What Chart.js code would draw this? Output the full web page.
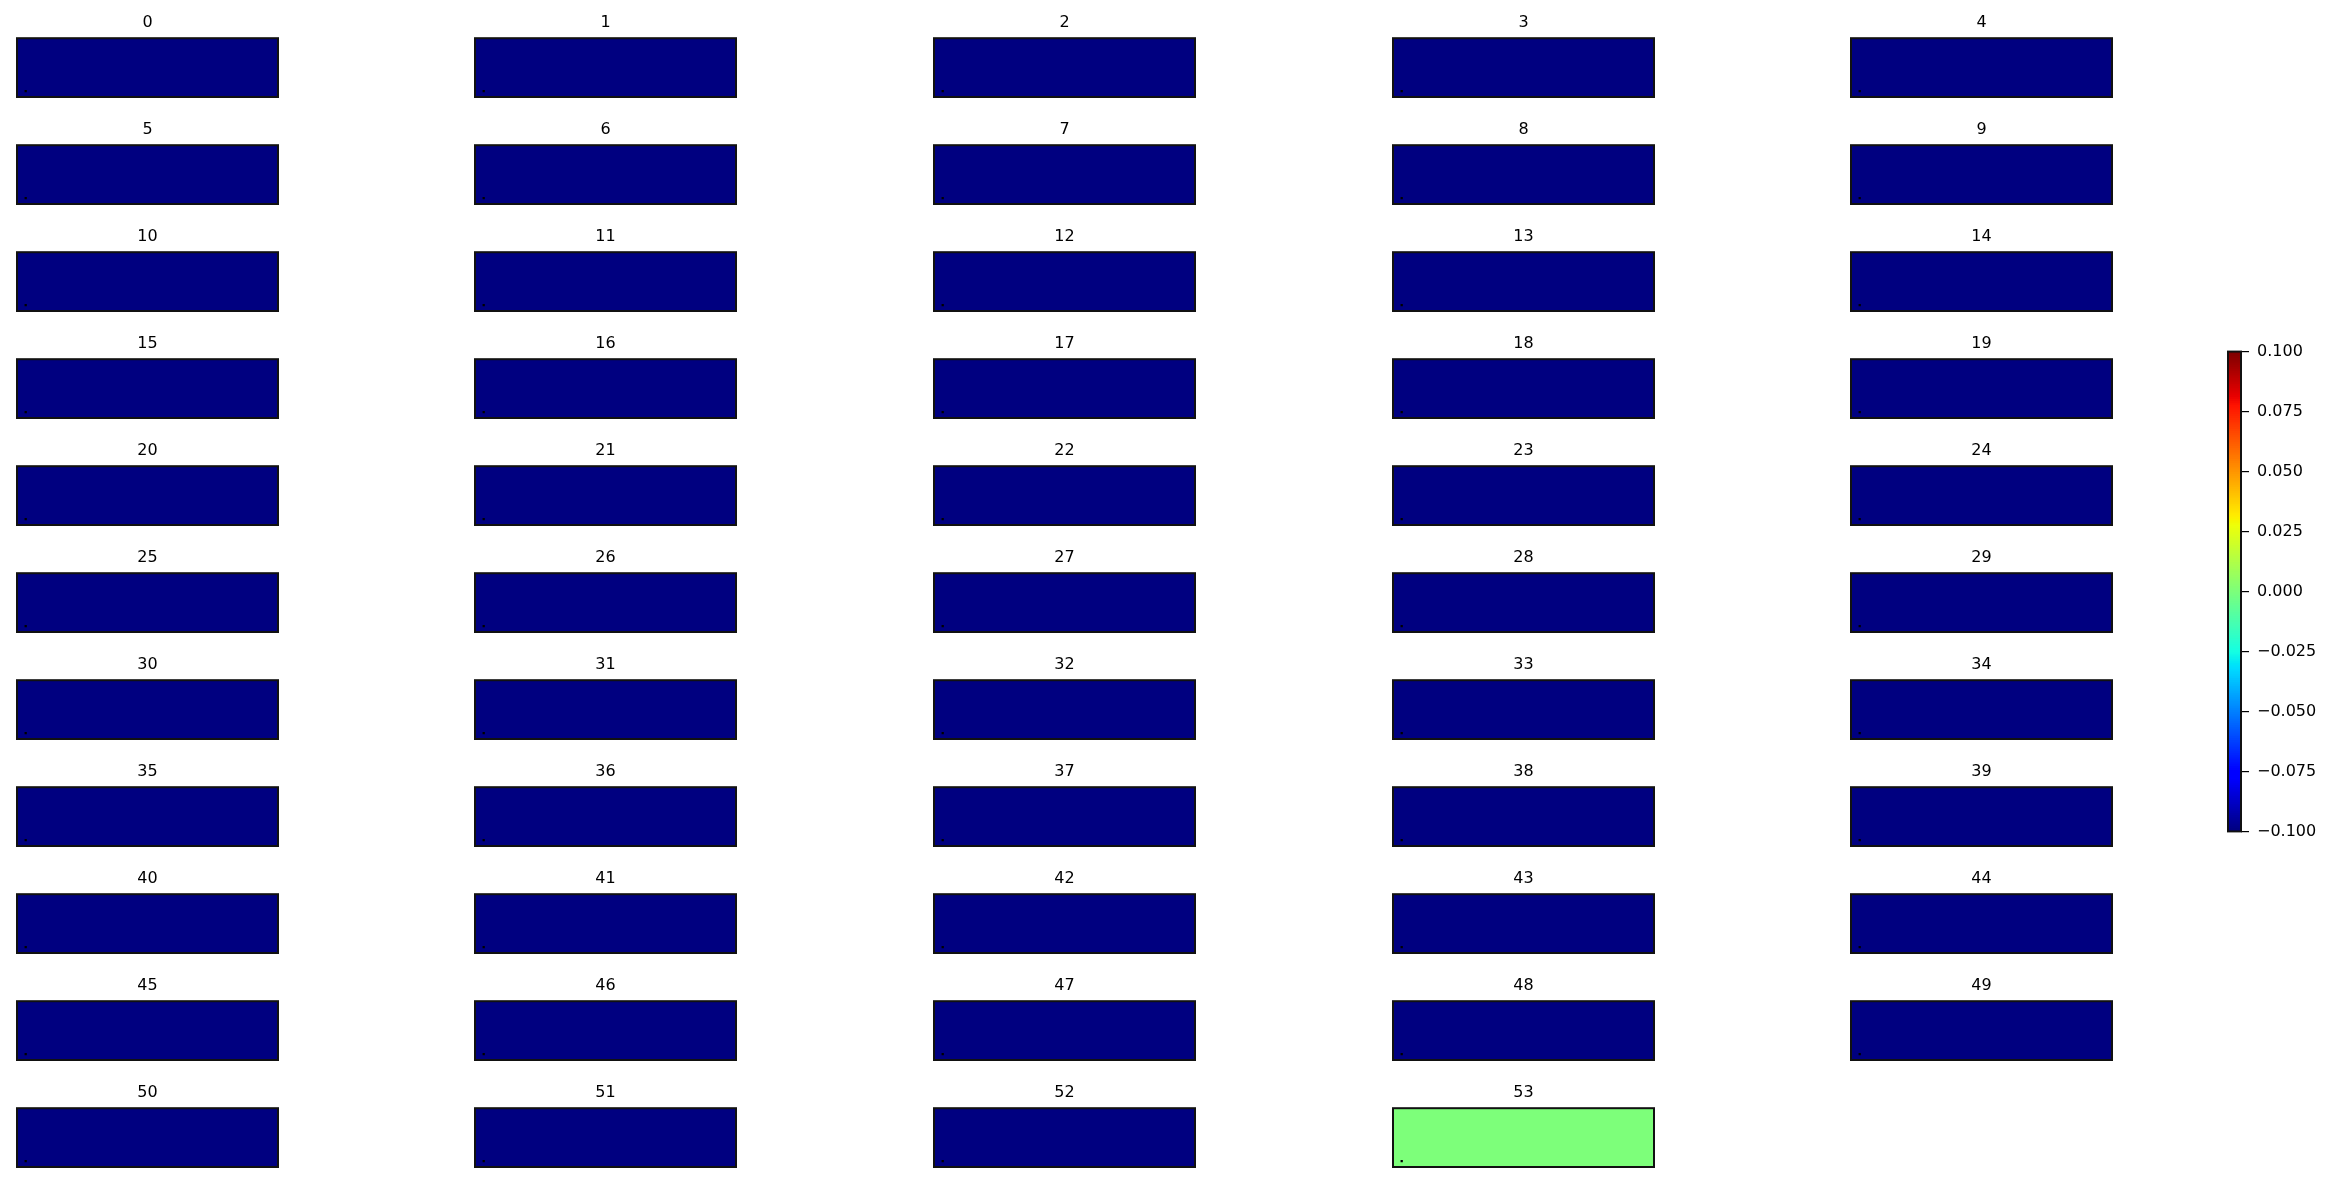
<!DOCTYPE html>
<html>
<head>
<meta charset="utf-8">
<script src="https://cdn.jsdelivr.net/npm/chart.js@4/dist/chart.umd.min.js"></script>
<style>
  body { margin: 0; background: #fff; }
  #fig { position: relative; width: 2332px; height: 1184px; overflow: hidden; }
  #fig canvas { position: absolute; }
</style>
</head>
<body>
<div id="fig"></div>
<script>
// panel titles and the single cell value shown in each panel
const panelTitles = ['0','1','2','3','4','5','6','7','8','9','10','11','12','13','14','15','16','17',
  '18','19','20','21','22','23','24','25','26','27','28','29','30','31','32','33','34','35',
  '36','37','38','39','40','41','42','43','44','45','46','47','48','49','50','51','52','53'];
const cellValues = [-0.1,-0.1,-0.1,-0.1,-0.1,-0.1,-0.1,-0.1,-0.1,-0.1,-0.1,-0.1,-0.1,-0.1,-0.1,-0.1,-0.1,-0.1,
  -0.1,-0.1,-0.1,-0.1,-0.1,-0.1,-0.1,-0.1,-0.1,-0.1,-0.1,-0.1,-0.1,-0.1,-0.1,-0.1,-0.1,-0.1,
  -0.1,-0.1,-0.1,-0.1,-0.1,-0.1,-0.1,-0.1,-0.1,-0.1,-0.1,-0.1,-0.1,-0.1,-0.1,-0.1,-0.1,0.0];
// marker point drawn in every panel
const markerX = [1];
const markerY = [1];
// colour scale
const cbarMin = -0.1, cbarMax = 0.1;
const cbarTicks = [-0.1, -0.075, -0.05, -0.025, 0, 0.025, 0.05, 0.075, 0.1];

const FONT = 'DejaVu Sans';

// matplotlib "jet"
const jetR = [[0,0],[0.35,0],[0.66,1],[0.89,1],[1,0.5]];
const jetG = [[0,0],[0.125,0],[0.375,1],[0.64,1],[0.91,0],[1,0]];
const jetB = [[0,0.5],[0.11,1],[0.34,1],[0.65,0],[1,0]];
function seg(t, pts) {
  for (let i = 0; i < pts.length - 1; i++) {
    if (t <= pts[i + 1][0]) {
      const a = pts[i], b = pts[i + 1];
      return a[1] + (b[1] - a[1]) * (t - a[0]) / (b[0] - a[0]);
    }
  }
  return pts[pts.length - 1][1];
}
function jet(t) {
  t = Math.min(1, Math.max(0, t));
  const idx = Math.min(255, Math.floor(t * 256));
  const x = idx / 255;
  return 'rgb(' + Math.round(seg(x, jetR) * 255) + ',' + Math.round(seg(x, jetG) * 255) + ',' + Math.round(seg(x, jetB) * 255) + ')';
}
function norm(v) { return (v - cbarMin) / (cbarMax - cbarMin); }

const fig = document.getElementById('fig');
function addCanvas(left, top, w, h) {
  const c = document.createElement('canvas');
  c.width = w; c.height = h;
  c.style.left = left + 'px'; c.style.top = top + 'px';
  c.style.width = w + 'px'; c.style.height = h + 'px';
  fig.appendChild(c);
  return c;
}

function frame(chart) {
  const a = chart.chartArea, ctx = chart.ctx;
  ctx.save();
  ctx.strokeStyle = '#111';
  ctx.lineWidth = 2;
  ctx.strokeRect(a.left, a.top, a.right - a.left, a.bottom - a.top);
  ctx.restore();
}

// fills the panel with its cell colour, then the frame on top
const cellPlugin = {
  id: 'cell',
  beforeDatasetsDraw(chart) {
    const { ctx, scales: { x, y } } = chart;
    const v = chart.options.plugins.cell.value;
    const x0 = x.getPixelForValue(x.min), x1 = x.getPixelForValue(x.max);
    const y0 = y.getPixelForValue(y.max), y1 = y.getPixelForValue(y.min);
    ctx.save();
    ctx.fillStyle = jet(norm(v));
    ctx.fillRect(x0, y0, x1 - x0, y1 - y0);
    ctx.restore();
  },
  afterDraw: frame
};

const panelLeft0 = 14.7, colPitch = 458.6, panelTop0 = 38.5, rowPitch = 107.0;
const panelW = 265, panelH = 61;
const titlePadTop = 5, titlePadBottom = 6;
const titleBox = titlePadTop + 16 * 1.2 + titlePadBottom;

panelTitles.forEach((title, i) => {
  const row = Math.floor(i / 5), col = i % 5;
  const pl = panelLeft0 + col * colPitch;
  const pt = panelTop0 + row * rowPitch;
  const cw = panelW + 4, ch = Math.round(titleBox + panelH + 2);
  const canvas = addCanvas(Math.round(pl - 2), Math.round(pt - titleBox), cw, ch);
  new Chart(canvas, {
    type: 'scatter',
    data: {
      datasets: [{
        data: markerX.map((x, k) => ({ x: x, y: markerY[k] })),
        backgroundColor: '#000',
        borderColor: '#000',
        pointRadius: 1.6,
        pointStyle: 'rect',
        borderWidth: 0
      }]
    },
    options: {
      responsive: false,
      animation: false,
      devicePixelRatio: 1,
      layout: { padding: { left: 2, right: 2, top: 0, bottom: 2 } },
      scales: {
        x: { display: false, min: 0, max: 30 },
        y: { display: false, min: 0, max: 10 }
      },
      plugins: {
        legend: { display: false },
        tooltip: { enabled: false },
        title: {
          display: true,
          text: title,
          color: '#000',
          font: { family: FONT, size: 16, weight: 'normal', lineHeight: 1.2 },
          padding: { top: titlePadTop, bottom: titlePadBottom }
        },
        cell: { value: cellValues[i] }
      }
    },
    plugins: [cellPlugin]
  });
});

// colorbar
const cbarPlugin = {
  id: 'cbar',
  beforeDatasetsDraw(chart) {
    const { ctx, chartArea: a, scales: { y } } = chart;
    ctx.save();
    const n = 256;
    for (let k = 0; k < n; k++) {
      const v0 = cbarMin + (cbarMax - cbarMin) * k / n;
      const v1 = cbarMin + (cbarMax - cbarMin) * (k + 1) / n;
      const p0 = y.getPixelForValue(v0), p1 = y.getPixelForValue(v1);
      ctx.fillStyle = jet(k / (n - 1) + 1e-6);
      ctx.fillRect(a.left, p1 - 0.5, a.right - a.left, p0 - p1 + 1);
    }
    ctx.restore();
  },
  afterDraw: frame
};

// chart area is inset by half a label height plus the tick padding, top and bottom
const cbarCanvas = addCanvas(2226, 334, 105, 515);
new Chart(cbarCanvas, {
  type: 'scatter',
  data: { datasets: [{ data: [] }] },
  options: {
    responsive: false,
    animation: false,
    devicePixelRatio: 1,
    layout: { padding: { left: 2, right: 0, top: 0, bottom: 0 } },
    scales: {
      x: { display: false, min: 0, max: 1 },
      y: {
        position: 'right',
        min: cbarMin,
        max: cbarMax,
        afterBuildTicks(scale) { scale.ticks = cbarTicks.map(v => ({ value: v })); },
        afterFit(scale) { scale.width = 90; },
        grid: { drawOnChartArea: false, drawTicks: true, tickLength: 8, color: '#000', lineWidth: 1.2 },
        border: { display: false },
        ticks: {
          color: '#000',
          padding: 8,
          font: { family: FONT, size: 16 },
          callback: v => (Math.abs(v) < 1e-9 ? '0.000' : v.toFixed(3).replace('-', '\u2212'))
        }
      }
    },
    plugins: { legend: { display: false }, tooltip: { enabled: false } }
  },
  plugins: [cbarPlugin]
});
</script>
</body>
</html>
